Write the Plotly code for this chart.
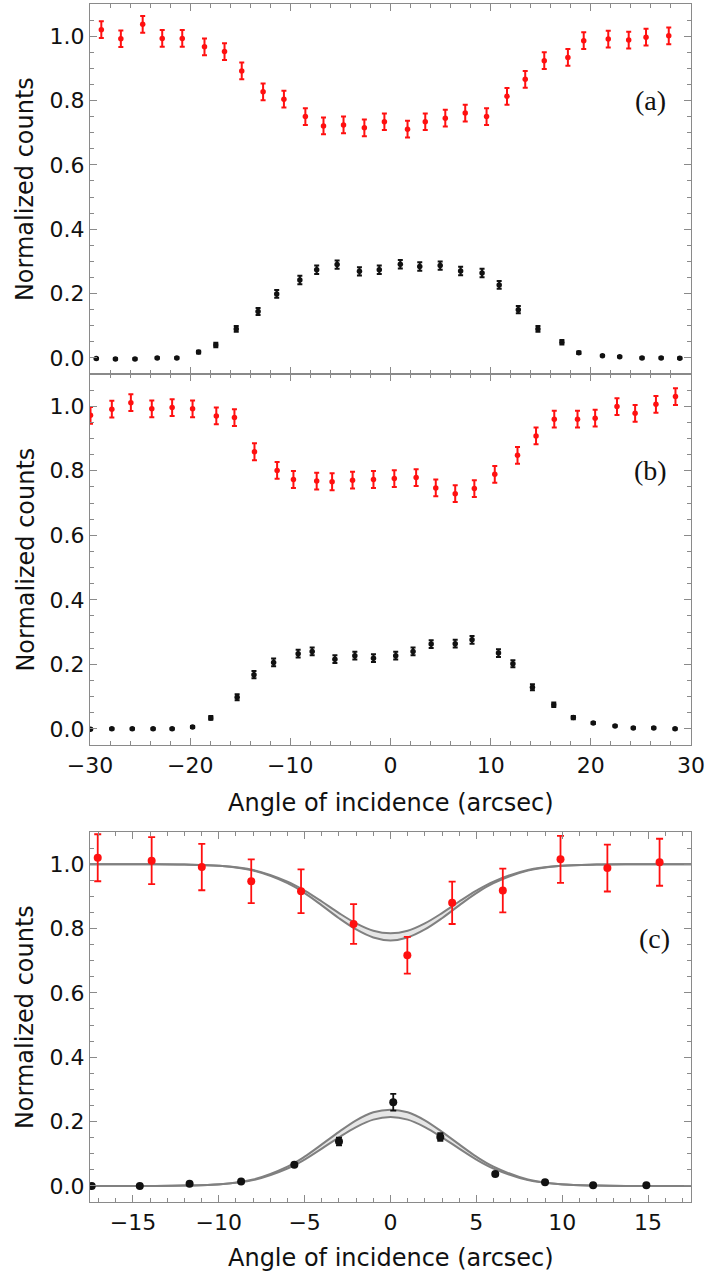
import plotly.graph_objects as go

# ---------------- Panel (a) ----------------
a_red_x = [-28.87, -26.92, -24.74, -22.79, -20.79, -18.57, -16.57, -14.85, -12.72, -10.64,
           -8.50, -6.69, -4.69, -2.61, -0.61, 1.70, 3.47, 5.47, 7.46, 9.59,
           11.63, 13.45, 15.35, 17.71, 19.29, 21.74, 23.78, 25.51, 27.78]
a_red_y = [1.020, 0.992, 1.037, 0.993, 0.993, 0.967, 0.952, 0.892, 0.827, 0.804,
           0.750, 0.721, 0.724, 0.715, 0.734, 0.711, 0.734, 0.745, 0.761, 0.750,
           0.813, 0.866, 0.924, 0.934, 0.986, 0.991, 0.988, 0.997, 1.001]
a_red_err = [0.026] * 29

a_blk_x = [-29.37, -27.46, -25.51, -23.29, -21.33, -19.16, -17.44, -15.40, -13.22, -11.36,
           -9.05, -7.37, -5.33, -3.10, -1.12, 0.98, 2.92, 4.96, 7.00, 9.14,
           10.85, 12.76, 14.72, 17.11, 18.80, 21.16, 22.88, 25.11, 27.02, 28.88]
a_blk_y = [-0.002, -0.003, -0.003, 0.000, 0.000, 0.018, 0.040, 0.090, 0.144, 0.199,
           0.242, 0.274, 0.290, 0.269, 0.274, 0.291, 0.284, 0.287, 0.270, 0.264,
           0.227, 0.150, 0.090, 0.049, 0.016, 0.007, 0.004, 0.000, 0.000, -0.001]
a_blk_err = [0.002, 0.002, 0.002, 0.002, 0.002, 0.004, 0.007, 0.009, 0.011, 0.012,
             0.013, 0.013, 0.013, 0.013, 0.013, 0.013, 0.013, 0.013, 0.013, 0.013,
             0.012, 0.011, 0.009, 0.007, 0.004, 0.002, 0.002, 0.002, 0.002, 0.002]

# ---------------- Panel (b) ----------------
b_red_x = [-29.95, -27.82, -25.92, -23.83, -21.80, -19.76, -17.39, -15.58, -13.58, -11.32,
           -9.69, -7.37, -5.83, -3.79, -1.70, 0.38, 2.56, 4.52, 6.46, 8.37,
           10.41, 12.68, 14.53, 16.35, 18.67, 20.43, 22.61, 24.42, 26.50, 28.45]
b_red_y = [0.972, 0.991, 1.011, 0.992, 0.996, 0.992, 0.970, 0.965, 0.859, 0.801,
           0.773, 0.768, 0.766, 0.771, 0.773, 0.776, 0.779, 0.747, 0.729, 0.745,
           0.789, 0.848, 0.908, 0.960, 0.960, 0.963, 0.999, 0.978, 1.006, 1.030]
b_red_err = [0.026] * 30

b_blk_x = [-29.95, -27.82, -25.78, -23.70, -21.80, -19.76, -17.94, -15.31, -13.63, -11.67,
           -9.22, -7.82, -5.55, -3.56, -1.70, 0.52, 2.25, 4.06, 6.46, 8.14,
           10.78, 12.22, 14.17, 16.30, 18.25, 20.24, 22.42, 24.24, 26.28, 28.41]
b_blk_y = [-0.001, 0.000, 0.000, 0.000, 0.000, 0.006, 0.034, 0.098, 0.168, 0.206,
           0.233, 0.240, 0.216, 0.227, 0.219, 0.227, 0.240, 0.263, 0.264, 0.276,
           0.235, 0.202, 0.129, 0.075, 0.035, 0.018, 0.009, 0.003, 0.003, 0.000]
b_blk_err = [0.002, 0.002, 0.002, 0.002, 0.002, 0.003, 0.006, 0.009, 0.011, 0.012,
             0.012, 0.012, 0.012, 0.012, 0.012, 0.012, 0.012, 0.012, 0.012, 0.012,
             0.012, 0.011, 0.009, 0.007, 0.005, 0.003, 0.002, 0.002, 0.002, 0.002]

# ---------------- Panel (c) ----------------
c_red_x = [-17.05, -13.91, -10.99, -8.11, -5.21, -2.15, 0.98, 3.59, 6.54, 9.90, 12.63, 15.67]
c_red_y = [1.020, 1.011, 0.991, 0.947, 0.916, 0.814, 0.717, 0.880, 0.918, 1.015, 0.988, 1.006]
c_red_err = [0.073, 0.073, 0.072, 0.068, 0.068, 0.062, 0.057, 0.066, 0.068, 0.073, 0.073, 0.073]

c_blk_x = [-17.4, -14.6, -11.7, -8.7, -5.6, -3.0, 0.16, 2.9, 6.1, 9.0, 11.8, 14.9]
c_blk_y = [0.000, 0.000, 0.007, 0.014, 0.066, 0.138, 0.260, 0.152, 0.037, 0.011, 0.002, 0.002]
c_blk_err = [0.003, 0.003, 0.003, 0.003, 0.004, 0.012, 0.026, 0.012, 0.004, 0.003, 0.003, 0.003]

# fitted bands
fit_x = [-17.5, -14, -12, -10, -8, -6, -5, -4, -3, -2, -1, 0,
         1, 2, 3, 4, 5, 6, 8, 10, 12, 14, 17.5]
red_fit_hi = [1.0, 1.0, 0.999, 0.995, 0.982, 0.946, 0.918, 0.884, 0.848, 0.816, 0.793, 0.785,
              0.793, 0.816, 0.848, 0.884, 0.918, 0.946, 0.982, 0.995, 0.999, 1.0, 1.0]
red_fit_lo = [1.0, 1.0, 0.999, 0.995, 0.980, 0.941, 0.910, 0.872, 0.832, 0.797, 0.772, 0.763,
              0.772, 0.797, 0.832, 0.872, 0.910, 0.941, 0.980, 0.995, 0.999, 1.0, 1.0]
blk_fit_hi = [0.0, 0.0, 0.001, 0.005, 0.020, 0.060, 0.091, 0.129, 0.168, 0.204, 0.229, 0.237,
              0.229, 0.204, 0.168, 0.129, 0.091, 0.060, 0.020, 0.005, 0.001, 0.0, 0.0]
blk_fit_lo = [0.0, 0.0, 0.001, 0.0045, 0.018, 0.054, 0.082, 0.116, 0.151, 0.183, 0.206, 0.214,
              0.206, 0.183, 0.151, 0.116, 0.082, 0.054, 0.018, 0.0045, 0.001, 0.0, 0.0]

y_ticks = [0.0, 0.2, 0.4, 0.6, 0.8, 1.0]
y_tick_text = ["0.0", "0.2", "0.4", "0.6", "0.8", "1.0"]
x_ticks_ab = [-30, -20, -10, 0, 10, 20, 30]
x_ticks_c = [-15, -10, -5, 0, 5, 10, 15]
panel_labels = ["(a)", "(b)", "(c)"]
x_title = "Angle of incidence (arcsec)"
y_title = "Normalized counts"

RED = "#ff1010"
BLK = "#111111"
FRAME = "#8a8a8a"
FONT = "DejaVu Sans"

fig = go.Figure()


def pts(x, y, err, color, xa, ya, size, thick, width):
    fig.add_trace(go.Scatter(
        x=x, y=y, mode="markers", xaxis=xa, yaxis=ya, showlegend=False,
        marker=dict(color=color, size=size),
        error_y=dict(type="data", array=err, visible=True, color=color,
                     thickness=thick, width=width)))


pts(a_red_x, a_red_y, a_red_err, RED, "x", "y", 5.5, 2, 2.5)
pts(a_blk_x, a_blk_y, a_blk_err, BLK, "x", "y", 5.5, 2, 2.5)
pts(b_red_x, b_red_y, b_red_err, RED, "x2", "y2", 5.5, 2, 2.5)
pts(b_blk_x, b_blk_y, b_blk_err, BLK, "x2", "y2", 5.5, 2, 2.5)

# bands in panel (c)
for hi, lo in [(red_fit_hi, red_fit_lo), (blk_fit_hi, blk_fit_lo)]:
    fig.add_trace(go.Scatter(x=fit_x, y=lo, mode="lines", xaxis="x3", yaxis="y3",
                             line=dict(color="#808080", width=2, shape="spline"),
                             showlegend=False, hoverinfo="skip"))
    fig.add_trace(go.Scatter(x=fit_x, y=hi, mode="lines", xaxis="x3", yaxis="y3",
                             line=dict(color="#808080", width=2, shape="spline"),
                             fill="tonexty", fillcolor="rgba(205,205,205,0.5)",
                             showlegend=False, hoverinfo="skip"))

pts(c_red_x, c_red_y, c_red_err, RED, "x3", "y3", 8, 1.8, 3.5)
pts(c_blk_x, c_blk_y, c_blk_err, BLK, "x3", "y3", 8, 1.8, 3)

W, H = 708, 1285
ml, mr, mt, mb = 90, 17, 4, 83
ph = H - mt - mb

def py(pix):
    return (H - mb - pix) / ph

doms = [(py(374), 1.0), (py(745), py(374)), (0.0, py(832))]

common_axis = dict(showline=True, linecolor=FRAME, linewidth=1.2, mirror="allticks",
                   ticks="inside", ticklen=7, tickwidth=1, tickcolor=FRAME,
                   showgrid=False, zeroline=False,
                   tickfont=dict(family=FONT, size=22, color="#111"))

layout = dict(width=W, height=H, paper_bgcolor="white", plot_bgcolor="white",
              margin=dict(l=ml, r=mr, t=mt, b=mb), showlegend=False)

for i, (d0, d1) in enumerate(doms):
    sx = "" if i == 0 else str(i + 1)
    if i < 2:
        xr = [-30, 30]
        xt = x_ticks_ab
        xminor = 2
    else:
        xr = [-17.5, 17.5]
        xt = x_ticks_c
        xminor = 1
    layout["xaxis" + sx] = dict(common_axis, range=xr, tickvals=xt,
                                ticktext=[("\u2212" + str(-v)) if v < 0 else str(v) for v in xt],
                                showticklabels=(i > 0), anchor="y" + sx, domain=[0, 1],
                                minor=dict(dtick=xminor, tick0=0, ticklen=3.5, tickcolor=FRAME,
                                           ticks="inside", showgrid=False))
    layout["yaxis" + sx] = dict(common_axis, range=[-0.05, 1.1], tickvals=y_ticks,
                                ticktext=y_tick_text, anchor="x" + sx, domain=[d0, d1],
                                minor=dict(dtick=0.05, tick0=0, ticklen=3.5, tickcolor=FRAME,
                                           ticks="inside", showgrid=False))

fig.update_layout(**layout)

ann = []
for i, (d0, d1) in enumerate(doms):
    ann.append(dict(text=y_title, xref="paper", yref="paper", x=-0.108, y=(d0 + d1) / 2,
                    textangle=-90, showarrow=False, xanchor="center", yanchor="middle",
                    font=dict(family=FONT, size=24, color="#111")))
ann.append(dict(text=x_title, xref="paper", yref="paper", x=0.5, y=py(803),
                showarrow=False, xanchor="center", yanchor="middle",
                font=dict(family=FONT, size=24, color="#111")))
ann.append(dict(text=x_title, xref="paper", yref="paper", x=0.5, y=py(1258),
                showarrow=False, xanchor="center", yanchor="middle",
                font=dict(family=FONT, size=24, color="#111")))
lab_pos = [("x", "y", 26.0, 0.80), ("x2", "y2", 26.0, 0.80), ("x3", "y3", 15.4, 0.77)]
for lab, (xr_, yr_, xv, yv) in zip(panel_labels, lab_pos):
    ann.append(dict(text=lab, xref=xr_, yref=yr_, x=xv, y=yv, showarrow=False,
                    xanchor="center", yanchor="middle",
                    font=dict(family="Liberation Serif", size=28, color="#111")))
fig.update_layout(annotations=ann)

fig.write_html("out.html")
